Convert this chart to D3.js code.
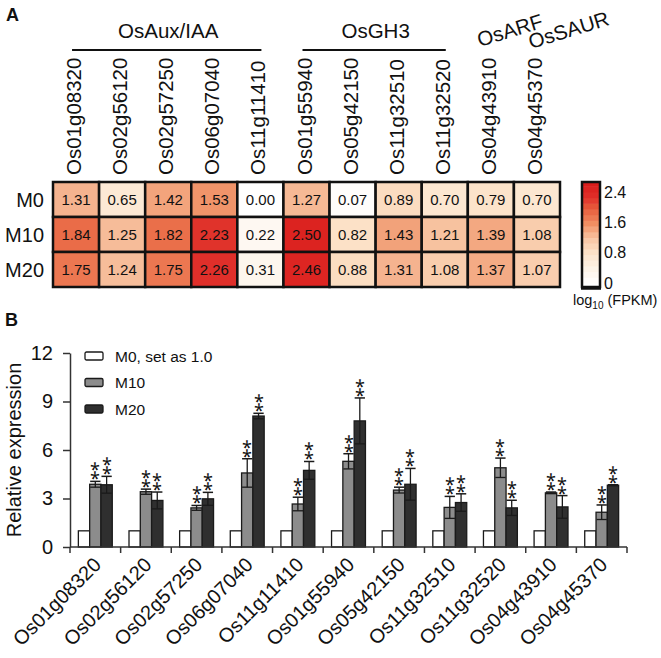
<!DOCTYPE html>
<html>
<head>
<meta charset="utf-8">
<script src="https://cdn.jsdelivr.net/npm/d3@7"></script>
<style>
  html, body { margin: 0; padding: 0; background: #fff; }
  svg { display: block; }
  text { font-family: Arial, "Liberation Sans", sans-serif; fill: #111; }
</style>
</head>
<body>
<svg id="chart" width="661" height="658"></svg>
<script>
// ---------- DATA ----------
const genes = ["Os01g08320","Os02g56120","Os02g57250","Os06g07040","Os11g11410",
               "Os01g55940","Os05g42150","Os11g32510","Os11g32520","Os04g43910","Os04g45370"];
const heatRows = ["M0","M10","M20"];
const fpkmM0  = [1.31,0.65,1.42,1.53,0.00,1.27,0.07,0.89,0.70,0.79,0.70];
const fpkmM10 = [1.84,1.25,1.82,2.23,0.22,2.50,0.82,1.43,1.21,1.39,1.08];
const fpkmM20 = [1.75,1.24,1.75,2.26,0.31,2.46,0.88,1.31,1.08,1.37,1.07];
const familyNames = ["OsAux/IAA","OsGH3","OsARF","OsSAUR"];
const familyFirst = [0,5,9,10];
const familyLast  = [4,8,9,10];
const colorTicks = [0,0.8,1.6,2.4];

const seriesNames = ["M0","M10","M20"];
const legendLabels = ["M0, set as 1.0","M10","M20"];
const relM0  = [1,1,1,1,1,1,1,1,1,1,1];
const relM10 = [3.88,3.42,2.42,4.58,2.66,5.30,3.52,2.45,4.90,3.35,2.15];
const errM10 = [0.18,0.16,0.15,0.88,0.42,0.47,0.18,0.68,0.60,0.05,0.45];
const relM20 = [3.85,2.88,2.98,8.10,4.74,7.80,3.88,2.75,2.42,2.48,3.82];
const errM20 = [0.52,0.52,0.40,0.17,0.55,1.42,0.98,0.54,0.47,0.70,0.03];
// "**" drawn as two vertically stacked asterisks (U+2051)
const signifM10 = ["⁑","⁑","⁑","⁑","⁑","⁑","⁑","⁑","⁑","⁑","⁑"];
const signifM20 = ["⁑","⁑","⁑","⁑","⁑","⁑","⁑","⁑","⁑","⁑","⁑"];
const yTicks = [0,3,6,9,12];

// ---------- SETUP ----------
const svg = d3.select("#chart");
const FONT = 'Arial, "Liberation Sans", sans-serif';

// Panel letters
svg.append("text").attr("x", 6).attr("y", 21).attr("font-size", 18).attr("font-weight", "bold").text("A");
svg.append("text").attr("x", 5).attr("y", 326).attr("font-size", 18).attr("font-weight", "bold").text("B");

// ---------- HEATMAP ----------
const xH = d3.scaleBand().domain(genes).range([53, 560]);
const yH = d3.scaleBand().domain(heatRows).range([182, 287]);
const heatColor = d3.scaleLinear()
  .domain([0, 0.4, 0.8, 1.2, 1.6, 2.0, 2.25, 2.5])
  .range(["#ffffff", "#fdf3e8", "#fce3c9", "#f7c3a1", "#ef8a5e", "#e6583a", "#e0302a", "#dc2320"])
  .interpolate(d3.interpolateRgb);

const heatData = [];
[fpkmM0, fpkmM10, fpkmM20].forEach((arr, r) => {
  arr.forEach((v, c) => heatData.push({ row: heatRows[r], gene: genes[c], v }));
});

const hg = svg.append("g");
hg.selectAll("rect.cell").data(heatData).enter().append("rect")
  .attr("class", "cell")
  .attr("x", d => xH(d.gene)).attr("y", d => yH(d.row))
  .attr("width", xH.bandwidth()).attr("height", yH.bandwidth())
  .attr("fill", d => heatColor(d.v))
  .attr("stroke", "#111").attr("stroke-width", 2.5);

hg.selectAll("text.val").data(heatData).enter().append("text")
  .attr("class", "val")
  .attr("x", d => xH(d.gene) + xH.bandwidth() / 2)
  .attr("y", d => yH(d.row) + yH.bandwidth() / 2)
  .attr("text-anchor", "middle").attr("dominant-baseline", "central")
  .attr("font-size", 15).attr("fill", "#222")
  .text(d => d.v.toFixed(2));

// row labels
hg.selectAll("text.rowlab").data(heatRows).enter().append("text")
  .attr("class", "rowlab")
  .attr("x", 44).attr("y", d => yH(d) + yH.bandwidth() / 2)
  .attr("text-anchor", "end").attr("dominant-baseline", "central")
  .attr("font-size", 20).text(d => d);

// column labels
hg.selectAll("text.collab").data(genes).enter().append("text")
  .attr("class", "collab")
  .attr("transform", d => `translate(${xH(d) + xH.bandwidth() / 2 + 5},175) rotate(-90)`)
  .attr("text-anchor", "start")
  .attr("font-size", 20.5).text(d => d);

// family labels
familyNames.forEach((name, i) => {
  const first = genes[familyFirst[i]], last = genes[familyLast[i]];
  const cx0 = xH(first) + xH.bandwidth() / 2, cx1 = xH(last) + xH.bandwidth() / 2;
  if (familyFirst[i] !== familyLast[i]) {
    hg.append("line").attr("x1", cx0 - 4).attr("x2", cx1 + 1).attr("y1", 50).attr("y2", 50)
      .attr("stroke", "#111").attr("stroke-width", 2);
    hg.append("text").attr("x", (cx0 + cx1) / 2).attr("y", 38)
      .attr("text-anchor", "middle").attr("font-size", 20.5).text(name);
  } else {
    hg.append("text")
      .attr("transform", i === 2 ? `translate(${cx0 - 11},47) rotate(-17)` : `translate(${cx0 - 6},49) rotate(-17)`)
      .attr("font-size", 20.5).text(name);
  }
});

// colour bar
const cb = d3.scaleLinear().domain([0, 2.4]).range([283, 192]);
const cbTop = 182, cbBot = 287, cbX = 582, cbW = 18;
const cbStep = 0.15;
const cbLo = cb.invert(cbBot), cbHi = cb.invert(cbTop);
const steps = d3.range(Math.floor(cbLo / cbStep) * cbStep, cbHi, cbStep);
hg.selectAll("rect.cbs").data(steps).enter().append("rect")
  .attr("class", "cbs")
  .attr("x", cbX)
  .attr("y", d => Math.max(cbTop, cb(d + cbStep)))
  .attr("width", cbW)
  .attr("height", d => Math.min(cbBot, cb(d)) - Math.max(cbTop, cb(d + cbStep)) + 0.5)
  .attr("fill", d => heatColor(Math.max(0, d + cbStep / 2)));
hg.append("rect").attr("x", cbX).attr("y", cbTop).attr("width", cbW).attr("height", cbBot - cbTop)
  .attr("fill", "none").attr("stroke", "#111").attr("stroke-width", 2.5);
hg.append("line").attr("x1", cbX - 1).attr("x2", cbX + cbW + 1).attr("y1", cbBot + 1).attr("y2", cbBot + 1)
  .attr("stroke", "#111").attr("stroke-width", 3.5);
hg.selectAll("text.cbt").data(colorTicks).enter().append("text")
  .attr("class", "cbt")
  .attr("x", 604).attr("y", d => cb(d))
  .attr("dominant-baseline", "central").attr("font-size", 16)
  .text(d => d === 0 ? "0" : d.toFixed(1));
const cbl = hg.append("text").attr("x", 573).attr("y", 305).attr("font-size", 14.5);
cbl.append("tspan").text("log");
cbl.append("tspan").attr("font-size", 10).attr("dy", 4).text("10");
cbl.append("tspan").attr("dy", -4).text(" (FPKM)");

// ---------- BAR CHART ----------
const x0 = d3.scaleBand().domain(genes).range([70, 627]);
const x1 = d3.scaleBand().domain(seriesNames).range([0, x0.bandwidth()]).paddingInner(0).paddingOuter(0.74);
const y = d3.scaleLinear().domain([0, 12]).range([547, 353]);
const barFill = { M0: "#ffffff", M10: "#8c8c8c", M20: "#2f2f2f" };

const barData = [];
genes.forEach((g, i) => {
  barData.push({ gene: g, s: "M0", v: relM0[i], e: 0, sig: "" });
  barData.push({ gene: g, s: "M10", v: relM10[i], e: errM10[i], sig: signifM10[i] });
  barData.push({ gene: g, s: "M20", v: relM20[i], e: errM20[i], sig: signifM20[i] });
});

const bg = svg.append("g");
bg.selectAll("rect.bar").data(barData).enter().append("rect")
  .attr("class", "bar")
  .attr("x", d => x0(d.gene) + x1(d.s))
  .attr("y", d => y(d.v))
  .attr("width", x1.bandwidth())
  .attr("height", d => y(0) - y(d.v))
  .attr("fill", d => barFill[d.s])
  .attr("stroke", "#1a1a1a").attr("stroke-width", 1.3);

// error bars
const errData = barData.filter(d => d.e > 0);
const capHalf = x1.bandwidth() / 2 - 0.5;
const eg = bg.selectAll("g.err").data(errData).enter().append("g").attr("class", "err")
  .attr("transform", d => `translate(${x0(d.gene) + x1(d.s) + x1.bandwidth() / 2},0)`);
eg.append("line").attr("x1", 0).attr("x2", 0)
  .attr("y1", d => y(d.v - d.e)).attr("y2", d => y(d.v + d.e))
  .attr("stroke", "#1a1a1a").attr("stroke-width", 1.3);
eg.append("line").attr("x1", -capHalf).attr("x2", capHalf)
  .attr("y1", d => y(d.v + d.e)).attr("y2", d => y(d.v + d.e))
  .attr("stroke", "#1a1a1a").attr("stroke-width", 1.5);
eg.append("line").attr("x1", -capHalf).attr("x2", capHalf)
  .attr("y1", d => y(d.v - d.e)).attr("y2", d => y(d.v - d.e))
  .attr("stroke", "#1a1a1a").attr("stroke-width", 1.3);

// significance marks (two stacked asterisks)
bg.selectAll("text.sig").data(barData.filter(d => d.sig)).enter().append("text")
  .attr("class", "sig")
  .attr("x", d => x0(d.gene) + x1(d.s) + x1.bandwidth() / 2)
  .attr("y", d => y(d.v + d.e) - 5)
  .attr("text-anchor", "middle")
  .attr("font-family", '"DejaVu Sans", "Noto Sans", sans-serif')
  .attr("font-size", 18)
  .style("fill", "#111")
  .text(d => d.sig);

// y axis
const yAxis = bg.append("g").attr("transform", "translate(70,0)")
  .call(d3.axisLeft(y).tickValues(yTicks).tickSize(7).tickSizeOuter(0).tickPadding(10));
yAxis.select(".domain").attr("stroke", "#333").attr("stroke-width", 1.5);
yAxis.selectAll(".tick line").attr("stroke", "#333").attr("stroke-width", 1.5);
yAxis.selectAll(".tick text").attr("font-size", 20).attr("font-family", FONT).attr("fill", "#111");

// x axis (ticks at group boundaries)
const xTickPos = genes.map(g => x0(g)).concat([x0.range()[1]]);
bg.append("line").attr("x1", x0.range()[0]).attr("x2", x0.range()[1])
  .attr("y1", y(0)).attr("y2", y(0)).attr("stroke", "#333").attr("stroke-width", 1.5);
bg.selectAll("line.xt").data(xTickPos).enter().append("line").attr("class", "xt")
  .attr("x1", d => d).attr("x2", d => d).attr("y1", y(0)).attr("y2", y(0) + 6)
  .attr("stroke", "#333").attr("stroke-width", 1.5);
bg.selectAll("text.xl").data(genes).enter().append("text").attr("class", "xl")
  .attr("transform", d => `translate(${x0(d) + x0.bandwidth() / 2 + 7},566) rotate(-45)`)
  .attr("text-anchor", "end").attr("font-size", 20).text(d => d);

// y label
bg.append("text").attr("transform", "translate(21,450) rotate(-90)")
  .attr("text-anchor", "middle").attr("font-size", 20).text("Relative expression");

// legend
const lg = bg.selectAll("g.leg").data(seriesNames).enter().append("g").attr("class", "leg")
  .attr("transform", (d, i) => `translate(85,${356 + i * 26.5})`);
lg.append("rect").attr("x", 0).attr("y", -4).attr("width", 18).attr("height", 8).attr("rx", 1.5)
  .attr("fill", d => barFill[d]).attr("stroke", "#1a1a1a").attr("stroke-width", 1.3);
lg.append("text").attr("x", 30).attr("y", 0).attr("dominant-baseline", "central")
  .attr("font-size", 15.5).text((d, i) => legendLabels[i]);
</script>
</body>
</html>
